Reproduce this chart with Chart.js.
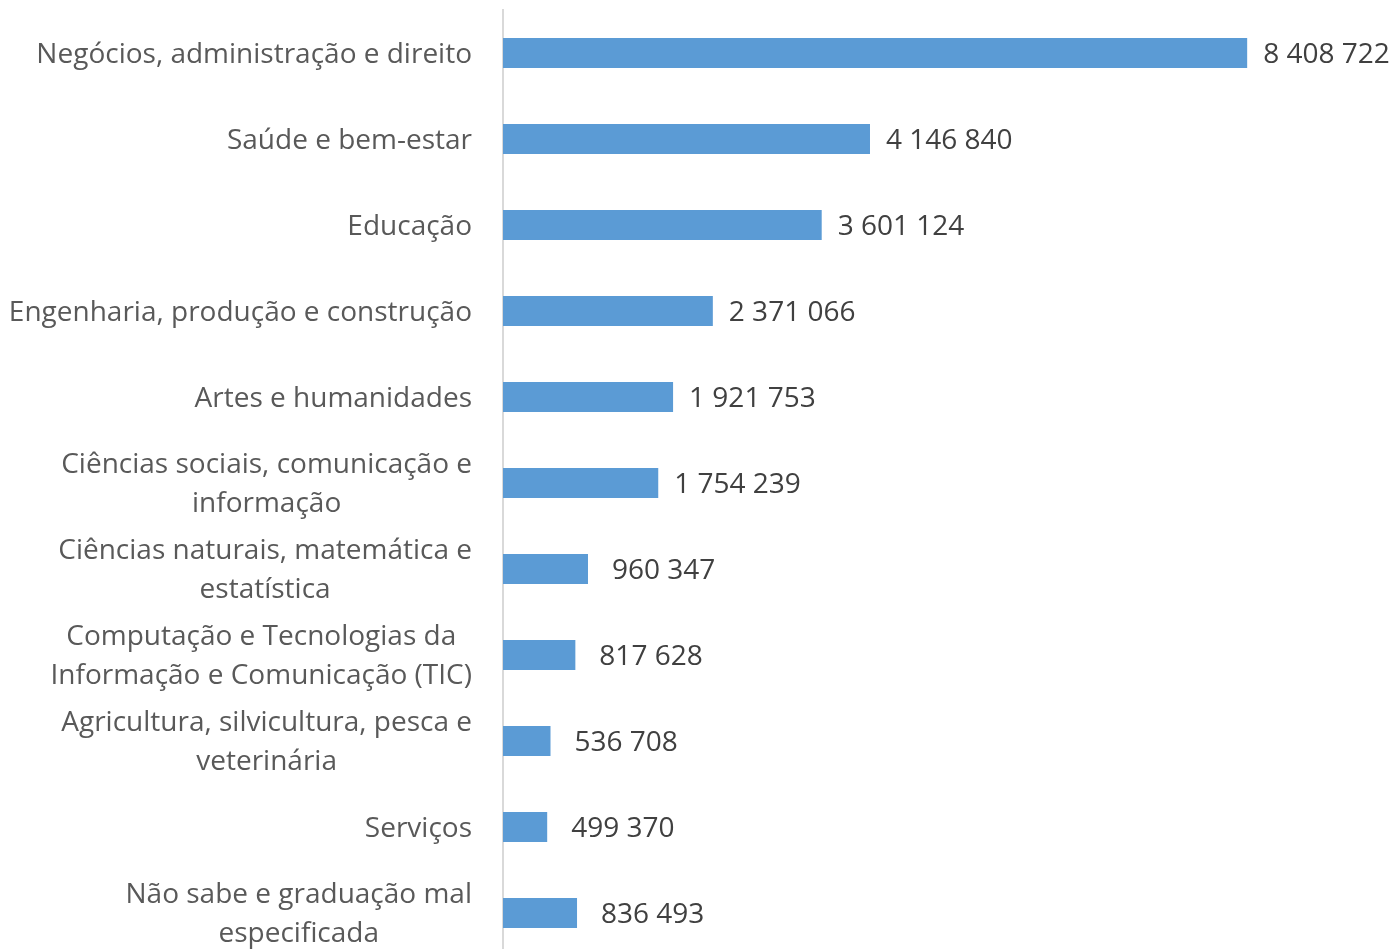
<!DOCTYPE html>
<html>
<head>
<meta charset="utf-8">
<script src="https://cdn.jsdelivr.net/npm/chart.js@4.4.1/dist/chart.umd.min.js"></script>
<style>
  html, body { margin: 0; padding: 0; background: #fff; overflow: hidden; }
  #wrap { position: absolute; left: 0; top: 0; width: 1392px; height: 960px; }
</style>
</head>
<body>
<div id="wrap"><canvas id="grafico"></canvas></div>
<script>
// dados
const categorias = [
  ['Negócios, administração e direito'],
  ['Saúde e bem-estar'],
  ['Educação'],
  ['Engenharia, produção e construção'],
  ['Artes e humanidades'],
  ['Ciências sociais, comunicação e', 'informação'],
  ['Ciências naturais, matemática e', 'estatística'],
  ['Computação e Tecnologias da', 'Informação e Comunicação (TIC)'],
  ['Agricultura, silvicultura, pesca e', 'veterinária'],
  ['Serviços'],
  ['Não sabe e graduação mal', 'especificada']
]
const valores = [8408722, 4146840, 3601124, 2371066, 1921753, 1754239, 960347, 817628, 536708, 499370, 836493]
const eixoMax = 10000000

const fonte = '"Open Sans", sans-serif'

// numero com espaco como separador de milhar
function formatar(n) {
  return String(n).replace(/\B(?=(\d{3})+(?!\d))/g, ' ')
}

// rotulos das categorias (linhas centralizadas, bloco alinhado a direita)
const rotulosCategorias = {
  id: 'rotulosCategorias',
  afterDraw(chart) {
    const ctx = chart.ctx
    const y = chart.scales.y
    const direita = chart.chartArea.left - 31
    ctx.save()
    ctx.font = '28px ' + fonte
    ctx.fillStyle = '#595959'
    ctx.textAlign = 'center'
    ctx.textBaseline = 'middle'
    categorias.forEach((linhas, i) => {
      const centroY = y.getPixelForTick(i) + 2
      const largura = Math.max(...linhas.map(l => ctx.measureText(l).width))
      const centroX = direita - largura / 2
      const altLinha = 39
      linhas.forEach((l, j) => {
        ctx.fillText(l, centroX, centroY + (j - (linhas.length - 1) / 2) * altLinha)
      })
    })
    ctx.restore()
  }
}

// rotulos de valores
const rotulosValores = {
  id: 'rotulosValores',
  afterDatasetsDraw(chart) {
    const ctx = chart.ctx
    const meta = chart.getDatasetMeta(0)
    ctx.save()
    ctx.font = '28px ' + fonte
    ctx.fillStyle = '#404040'
    ctx.textAlign = 'left'
    ctx.textBaseline = 'middle'
    meta.data.forEach((barra, i) => {
      const desloc = valores[i] >= 1000000 ? 16 : 24
      ctx.fillText(formatar(valores[i]), barra.x + desloc, barra.y + 2)
    })
    ctx.restore()
  }
}

const grafico = new Chart(document.querySelector('#grafico'), {
  type: 'bar',
  data: {
    labels: categorias,
    datasets: [{
      data: valores,
      backgroundColor: '#5B9BD5',
      borderWidth: 0,
      categoryPercentage: 1,
      barPercentage: 0.35
    }]
  },
  options: {
    indexAxis: 'y',
    responsive: true,
    maintainAspectRatio: false,
    animation: false,
    layout: { padding: { left: 503, right: 4, top: 10, bottom: 4 } },
    plugins: {
      legend: { display: false },
      tooltip: { enabled: false }
    },
    scales: {
      x: {
        display: false,
        min: 0,
        max: eixoMax
      },
      y: {
        ticks: { display: false },
        grid: { display: false, drawTicks: false },
        border: { display: true, color: '#d9d9d9', width: 2 }
      }
    }
  },
  plugins: [rotulosCategorias, rotulosValores]
})
</script>
</body>
</html>
